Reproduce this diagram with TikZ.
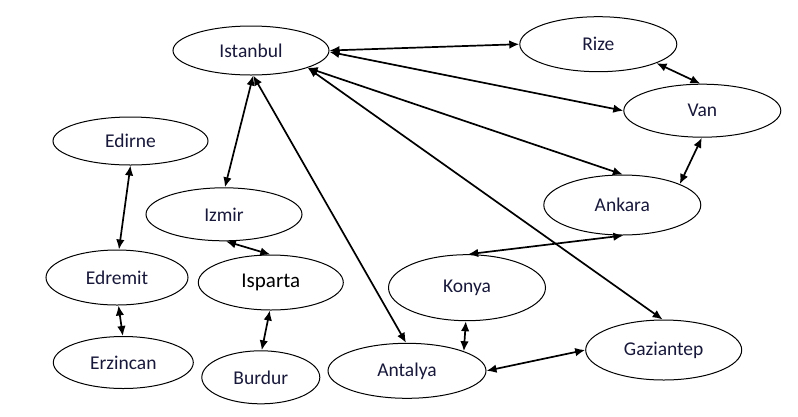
\documentclass[tikz,border=0pt]{standalone}
\usepackage{fontspec}
\setmainfont{Carlito}
\usetikzlibrary{arrows.meta,shapes.geometric}
\definecolor{txt}{HTML}{18183A}
\tikzset{
  city/.style={ellipse,draw=black,line width=1pt,inner sep=0pt,text=txt,
    font=\fontsize{19.5}{23}\selectfont},
  link/.style={line width=1.7pt,{Latex[length=10pt,width=8.5pt]}-{Latex[length=10pt,width=8.5pt]}},
}
\begin{document}
\begin{tikzpicture}[x=1pt,y=-1pt]
\useasboundingbox (0,0) rectangle (798,416);
\fill[white] (0,0) rectangle (798,416);
\node[city,minimum width=156pt,minimum height=49pt] (ist) at (251,50.5) {Istanbul};
\node[city,minimum width=157pt,minimum height=55pt] (rize) at (598.3,44.2) {Rize};
\node[city,minimum width=157pt,minimum height=53pt] (van) at (702.3,110.7) {Van};
\node[city,minimum width=155pt,minimum height=48pt] (edirne) at (130.5,141) {Edirne};
\node[city,minimum width=156pt,minimum height=53pt] (izmir) at (224,214.3) {Izmir};
\node[city,minimum width=157pt,minimum height=60pt] (ankara) at (622.3,205) {Ankara};
\node[city,minimum width=142pt,minimum height=55pt] (edremit) at (117,277.5) {Edremit};
\node[city,minimum width=145pt,minimum height=55pt,text=black,font=\fontsize{21}{25}\selectfont] (isparta) at (270.8,282.5) {Isparta};
\node[city,minimum width=157pt,minimum height=66pt] (konya) at (467,287.7) {Konya};
\node[city,minimum width=140pt,minimum height=52pt] (erzincan) at (123.3,362.5) {Erzincan};
\node[city,minimum width=118pt,minimum height=53pt] (burdur) at (260.8,377.3) {Burdur};
\node[city,minimum width=158pt,minimum height=55pt] (antalya) at (407,370.8) {Antalya};
\node[city,minimum width=156pt,minimum height=60pt] (gazi) at (663.7,350) {Gaziantep};

\draw[link] (ist.0) -- (rize.180);
\draw[link] (ist.-1) -- (van.180);
\draw[link] (ist.-17) -- (ankara.89);
\draw[link] (ist.-17) -- (gazi.92.6);
\draw[link] (ist.-85) -- (antalya.92);
\draw[link] (ist.-85) -- (izmir.88);
\draw[link] (rize.-18.6) -- (van.94.8);
\draw[link] (van.269) -- (ankara.20.6);
\draw[link] (ankara.272) -- (konya.88);
\draw[link] (konya.268.3) -- (antalya.19.4);
\draw[link] (antalya.0) -- (gazi.180);
\draw[link] (izmir.274) -- (isparta.91.7);
\draw[link] (isparta.268.4) -- (burdur.88);
\draw[link] (edirne.270) -- (edremit.86);
\draw[link] (edremit.273) -- (erzincan.91);
\end{tikzpicture}
\end{document}
